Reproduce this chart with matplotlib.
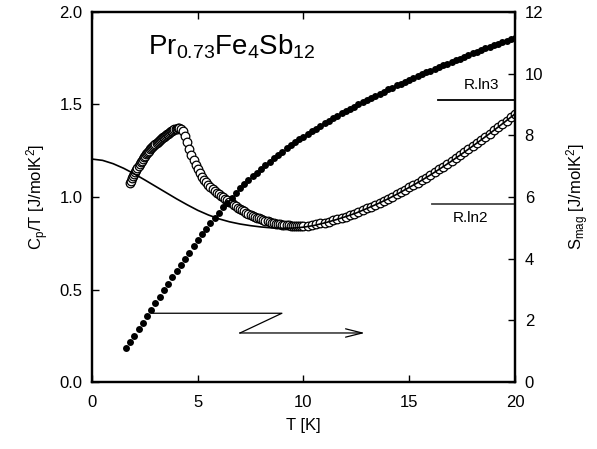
import matplotlib
matplotlib.use("Agg")
import matplotlib.pyplot as plt

plt.rcParams['font.family'] = ['Liberation Sans', 'DejaVu Sans']
plt.rcParams['mathtext.fontset'] = 'custom'
plt.rcParams['mathtext.rm'] = 'Liberation Sans'
plt.rcParams['mathtext.it'] = 'Liberation Sans:italic'

# Cp/T, open circles (left axis)
t_cp = [1.80, 1.85, 1.90, 1.95, 2.00, 2.05, 2.10, 2.15, 2.20, 2.25, 2.30, 2.35,
        2.40, 2.45, 2.50, 2.55, 2.60, 2.65, 2.70, 2.75, 2.80, 2.85, 2.90, 2.95,
        3.00, 3.05, 3.10, 3.15, 3.20, 3.25, 3.30, 3.35, 3.40, 3.45, 3.50, 3.55,
        3.60, 3.65, 3.70, 3.75, 3.80, 3.85, 3.90, 3.95, 4.00, 4.05,
        4.1, 4.2, 4.3, 4.4, 4.5, 4.6, 4.7, 4.8, 4.9, 5.0, 5.1, 5.2, 5.3, 5.4,
        5.5, 5.6, 5.7, 5.8, 5.9, 6.0, 6.1, 6.2, 6.3, 6.4, 6.5, 6.6, 6.7, 6.8,
        6.9, 7.0, 7.1, 7.2, 7.3, 7.4, 7.5, 7.6, 7.7, 7.8, 7.9, 8.0, 8.1, 8.2,
        8.3, 8.4, 8.5, 8.6, 8.7, 8.8, 8.9, 9.0, 9.1, 9.2, 9.3, 9.4, 9.5, 9.6,
        9.7, 9.8, 9.9, 10.0,
        10.2, 10.4, 10.6, 10.8, 11.0, 11.2, 11.4, 11.6, 11.8, 12.0, 12.2, 12.4,
        12.6, 12.8, 13.0, 13.2, 13.4, 13.6, 13.8, 14.0, 14.2, 14.4, 14.6, 14.8,
        15.0, 15.2, 15.4, 15.6, 15.8, 16.0, 16.2, 16.4, 16.6, 16.8, 17.0, 17.2,
        17.4, 17.6, 17.8, 18.0, 18.2, 18.4, 18.6, 18.8, 19.0, 19.2, 19.4, 19.6,
        19.8, 20.0]
cp_t = [1.075, 1.088, 1.100, 1.112, 1.124, 1.136, 1.147, 1.158, 1.168, 1.178, 1.188, 1.197,
        1.206, 1.214, 1.222, 1.230, 1.237, 1.244, 1.251, 1.258, 1.264, 1.270, 1.276, 1.282,
        1.288, 1.293, 1.298, 1.303, 1.308, 1.313, 1.318, 1.323, 1.327, 1.331, 1.335, 1.339,
        1.343, 1.347, 1.351, 1.355, 1.359, 1.362, 1.365, 1.368, 1.370, 1.372,
        1.372, 1.368, 1.355, 1.330, 1.298, 1.262, 1.228, 1.198, 1.172, 1.150, 1.128, 1.110, 1.094, 1.080,
        1.067, 1.055, 1.044, 1.034, 1.024, 1.015, 1.006, 0.998, 0.990, 0.982, 0.974, 0.966, 0.958, 0.950,
        0.943, 0.936, 0.929, 0.922, 0.916, 0.910, 0.904, 0.899, 0.894, 0.889, 0.884, 0.880, 0.876, 0.872,
        0.868, 0.865, 0.862, 0.859, 0.856, 0.854, 0.852, 0.850, 0.848, 0.847, 0.846, 0.845, 0.844, 0.843,
        0.843, 0.843, 0.843, 0.843,
        0.844, 0.848, 0.852, 0.857, 0.862, 0.867, 0.873, 0.879, 0.886, 0.894, 0.902, 0.910,
        0.919, 0.928, 0.938, 0.948, 0.958, 0.968, 0.979, 0.990, 1.002, 1.014, 1.026, 1.039,
        1.052, 1.065, 1.078, 1.091, 1.105, 1.119, 1.134, 1.149, 1.164, 1.179, 1.194, 1.210,
        1.226, 1.242, 1.258, 1.275, 1.292, 1.309, 1.326, 1.343, 1.360, 1.377, 1.395, 1.413,
        1.431, 1.449]

# calculated curve (solid line, left axis)
t_fit = [0.0, 0.5, 1.0, 1.5, 2.0, 2.5, 3.0, 3.5, 4.0, 4.5, 5.0, 5.5, 6.0, 6.5,
         7.0, 7.5, 8.0, 8.5, 9.0, 9.5, 10.0, 10.5, 11.0, 11.5, 12.0, 12.5, 13.0,
         13.5, 14.0, 14.5, 15.0, 15.5, 16.0, 16.5, 17.0, 17.5, 18.0, 18.5, 19.0,
         19.5, 20.0]
cp_fit = [1.205, 1.198, 1.180, 1.155, 1.125, 1.092, 1.058, 1.024, 0.990, 0.958,
          0.928, 0.903, 0.882, 0.866, 0.854, 0.845, 0.838, 0.833, 0.831, 0.832,
          0.837, 0.846, 0.860, 0.876, 0.894, 0.914, 0.938, 0.963, 0.990, 1.020,
          1.052, 1.084, 1.119, 1.156, 1.194, 1.234, 1.275, 1.317, 1.360, 1.404,
          1.449]

# magnetic entropy, filled dots (right axis)
t_s = [1.6, 1.8, 2.0, 2.2, 2.4, 2.6, 2.8, 3.0, 3.2, 3.4, 3.6, 3.8, 4.0, 4.2,
       4.4, 4.6, 4.8, 5.0, 5.2, 5.4, 5.6, 5.8, 6.0, 6.2, 6.4, 6.6, 6.8, 7.0,
       7.2, 7.4, 7.6, 7.8, 8.0, 8.2, 8.4, 8.6, 8.8, 9.0, 9.2, 9.4, 9.6, 9.8,
       10.0, 10.2, 10.4, 10.6, 10.8, 11.0, 11.2, 11.4, 11.6, 11.8, 12.0, 12.2,
       12.4, 12.6, 12.8, 13.0, 13.2, 13.4, 13.6, 13.8, 14.0, 14.2, 14.4, 14.6,
       14.8, 15.0, 15.2, 15.4, 15.6, 15.8, 16.0, 16.2, 16.4, 16.6, 16.8, 17.0,
       17.2, 17.4, 17.6, 17.8, 18.0, 18.2, 18.4, 18.6, 18.8, 19.0, 19.2, 19.4,
       19.6, 19.8, 20.0]
s_mag = [1.09, 1.30, 1.50, 1.71, 1.92, 2.13, 2.34, 2.55, 2.76, 2.97, 3.18, 3.39, 3.60, 3.80,
         4.00, 4.20, 4.40, 4.60, 4.79, 4.97, 5.15, 5.32, 5.49, 5.66, 5.82, 5.98, 6.14, 6.30,
         6.43, 6.55, 6.67, 6.79, 6.91, 7.03, 7.14, 7.25, 7.36, 7.47, 7.58, 7.68, 7.78, 7.87,
         7.96, 8.05, 8.14, 8.22, 8.31, 8.39, 8.47, 8.55, 8.63, 8.71, 8.78, 8.86,
         8.93, 9.01, 9.08, 9.15, 9.22, 9.29, 9.35, 9.42, 9.49, 9.55, 9.62, 9.68,
         9.74, 9.80, 9.86, 9.92, 9.98, 10.04, 10.10, 10.16, 10.21, 10.27, 10.32, 10.38,
         10.44, 10.49, 10.55, 10.60, 10.66, 10.71, 10.76, 10.82, 10.87, 10.92, 10.97, 11.02,
         11.06, 11.11, 11.15]

# R ln2 / R ln3 reference levels
rln3 = 9.13
rln2 = 5.76

fig = plt.figure(figsize=(5.97, 4.49), dpi=100)
ax = fig.add_axes([0.1541, 0.1492, 0.7085, 0.8241])
ax2 = ax.twinx()

ax.plot(t_cp, cp_t, 'o', ms=6.2, mfc='white', mec='black', mew=0.9, zorder=2)
ax.plot(t_fit, cp_fit, '-', color='black', lw=1.2, zorder=3)
ax2.plot(t_s, s_mag, 'o', ms=5.0, color='black', mew=0)

ax2.plot([16.36, 20], [rln3, rln3], color='black', lw=1.3)
ax2.plot([16.07, 20], [rln2, rln2], color='#444444', lw=1.3)
ax2.text(18.4, 9.62, 'R.ln3', fontsize=11, ha='center', va='center')
ax2.text(17.9, 5.33, 'R.ln2', fontsize=11, ha='center', va='center')

# arrow pointing to right axis
ax2.plot([2.88, 8.98, 7.0], [2.23, 2.23, 1.59], color='black', lw=0.9)
ax2.annotate('', xy=(12.9, 1.59), xytext=(6.98, 1.59),
             arrowprops=dict(arrowstyle='->,head_length=1.2,head_width=0.3',
                             lw=0.9, color='black', shrinkA=0, shrinkB=0))

ax.text(0.132, 0.885, r'Pr$_{\mathrm{0.73}}$Fe$_{\mathrm{4}}$Sb$_{\mathrm{12}}$',
        transform=ax.transAxes, fontsize=20, va='baseline')

ax.set_xlim(0, 20)
ax.set_ylim(0, 2.0)
ax2.set_ylim(0, 12)
ax.set_xticks([0, 5, 10, 15, 20])
ax.set_yticks([0.0, 0.5, 1.0, 1.5, 2.0])
ax.set_yticklabels(['0.0', '0.5', '1.0', '1.5', '2.0'])
ax2.set_yticks([0, 2, 4, 6, 8, 10, 12])

ax.tick_params(axis='x', direction='in', top=True, length=5, width=1, labelsize=12, pad=9)
ax.tick_params(axis='y', direction='in', length=5, width=1, labelsize=12, pad=7)
ax2.tick_params(axis='y', direction='in', length=5, width=1, labelsize=12, pad=7)
for a in (ax, ax2):
    for sp in a.spines.values():
        sp.set_linewidth(1.6)

ax.set_xlabel('T [K]', fontsize=12, labelpad=6)
ax.set_ylabel(r'C$_{\mathrm{p}}$/T [J/molK$^{\mathrm{2}}$]', fontsize=12, labelpad=6)
ax2.set_ylabel(r'S$_{\mathrm{mag}}$ [J/molK$^{\mathrm{2}}$]', fontsize=12, labelpad=15)

fig.savefig('out.png', dpi=100)
